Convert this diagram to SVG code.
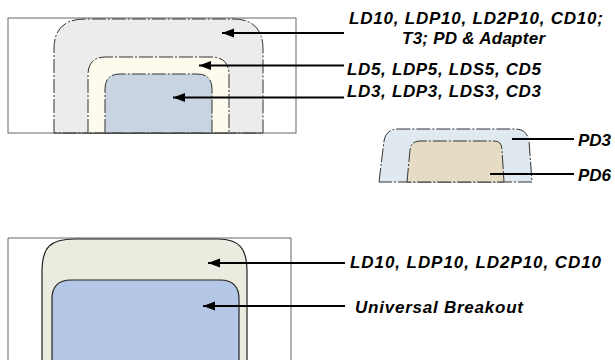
<svg xmlns="http://www.w3.org/2000/svg" width="615" height="360" viewBox="0 0 615 360">
<style>
.frame{fill:none;stroke:#666;stroke-width:1}
.dd{stroke:#333;stroke-width:1;stroke-dasharray:14 2 2 2}
.solid{stroke:#222;stroke-width:1.2}
.lbl{font-family:"Liberation Sans",Arial,sans-serif;font-weight:bold;font-style:italic;font-size:17px;fill:#000}
.ln{stroke:#000;stroke-width:2;fill:none}
.arr{marker-end:url(#ah)}
</style>
<defs>
<marker id="ah" markerUnits="userSpaceOnUse" markerWidth="14" markerHeight="10" refX="12" refY="5" orient="auto">
<path d="M0,0.5 L12,5 L0,9.5 Z" fill="#000"/>
</marker>
</defs>
<rect width="615" height="360" fill="#fff"/>

<g id="top-panel">
<rect class="frame" x="8" y="18" width="288" height="115"/>
<g id="shape-ld10">
<path class="dd" fill="#ececec" d="M54,133 L54,49 Q54,19 85,19 L233,19 Q263,19 263,49 L263,133 Z"/>
</g>
<g id="shape-ld5">
<path class="dd" fill="#fdfaee" d="M88,133 L88,75 Q88,57 106,57 L211,57 Q229,57 229,75 L229,133 Z"/>
</g>
<g id="shape-ld3">
<path class="dd" fill="#c8d4e1" d="M105,133 L105,89 Q105,74 120,74 L197,74 Q212,74 212,89 L212,133 Z"/>
</g>
<line x1="54" y1="133" x2="263" y2="133" stroke="#444" stroke-width="1"/>
</g>

<g id="pd-panel">
<g id="shape-pd3">
<path class="dd" fill="#e1e9f0" d="M379,182 L384,141 Q386,129 398,129 L515,129 Q527,129 529,141 L532,182 Z"/>
</g>
<g id="shape-pd6">
<path class="dd" fill="#e6dcc4" d="M407,182 L410,150 Q411,141 420,141 L494,141 Q502,141 502,150 L504,182 Z"/>
</g>
</g>

<g id="bottom-panel">
<path class="frame" d="M8,360 L8,238 L291,238 L291,360"/>
<g id="shape-bottom-outer">
<path class="solid" fill="#ecebdf" d="M42,361 L42,272 C42,247 50,239 75,239 L218,239 C240,239 247,249 247,272 L247,361"/>
</g>
<g id="shape-bottom-inner">
<path class="solid" fill="#b4c7e7" d="M52,361 L52,299 Q52,280 71,280 L220,280 Q239,280 239,299 L239,361"/>
</g>
</g>

<g id="connectors">
<line class="ln arr" x1="344" y1="33" x2="222" y2="33"/>
<line class="ln arr" x1="344" y1="65.5" x2="199" y2="65.5"/>
<line class="ln arr" x1="344" y1="97.5" x2="173" y2="97.5"/>
<line class="ln" x1="512" y1="139" x2="574" y2="139"/>
<line class="ln" x1="490" y1="174" x2="574" y2="174"/>
<line class="ln arr" x1="345" y1="263" x2="208" y2="263"/>
<line class="ln arr" x1="345" y1="306" x2="203" y2="306"/>
</g>

<g id="labels">
<text class="lbl" x="349" y="24" textLength="254" lengthAdjust="spacing">LD10, LDP10, LD2P10, CD10;</text>
<text class="lbl" x="402" y="43.5" textLength="143" lengthAdjust="spacing">T3; PD &amp; Adapter</text>
<text class="lbl" x="347" y="74.5" textLength="194" lengthAdjust="spacing">LD5, LDP5, LDS5, CD5</text>
<text class="lbl" x="347" y="97" textLength="194" lengthAdjust="spacing">LD3, LDP3, LDS3, CD3</text>
<text class="lbl" x="578" y="145.5">PD3</text>
<text class="lbl" x="578" y="180.5">PD6</text>
<text class="lbl" x="350" y="268" textLength="251" lengthAdjust="spacing">LD10, LDP10, LD2P10, CD10</text>
<text class="lbl" x="355" y="312.5" textLength="168" lengthAdjust="spacing">Universal Breakout</text>
</g>
</svg>
